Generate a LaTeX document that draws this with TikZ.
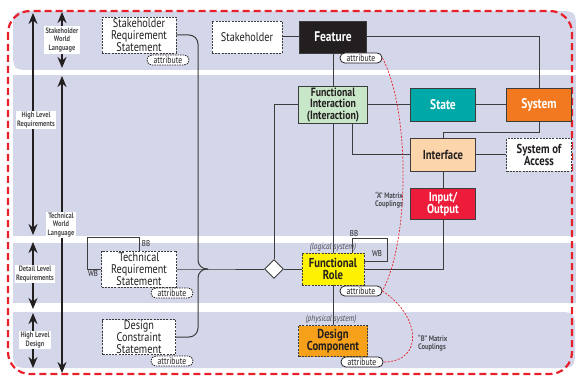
\documentclass[tikz,border=0pt]{standalone}
\usepackage{fontspec}
\setmainfont{PT Sans}[FakeStretch=0.82]
\usetikzlibrary{arrows.meta,shapes.geometric,calc}
\definecolor{band}{RGB}{212,214,234}
\definecolor{linec}{RGB}{60,60,60}
\definecolor{darkt}{RGB}{35,31,32}
\definecolor{greyt}{RGB}{75,75,80}
\definecolor{redd}{RGB}{232,32,42}
\definecolor{figreen}{RGB}{200,230,200}
\definecolor{teal}{RGB}{0,169,167}
\definecolor{sysorange}{RGB}{243,121,32}
\definecolor{peach}{RGB}{253,213,170}
\definecolor{iored}{RGB}{237,28,58}
\definecolor{fryellow}{RGB}{255,242,0}
\definecolor{dcorange}{RGB}{247,161,26}
\begin{document}
\begin{tikzpicture}[x=1pt,y=-1pt,
  box/.style={draw=linec, line width=0.9pt, minimum width=65pt, minimum height=33pt, inner sep=1pt, align=center, font=\fontsize{13}{12.5}\selectfont\bfseries, text=darkt},
  wbox/.style={box, fill=white, dash pattern=on 2pt off 1.2pt, font=\fontsize{12.5}{12}\selectfont},
  attrpill/.style={draw=darkt, fill=white, line width=0.8pt, rounded corners=4.8pt, minimum width=42pt, minimum height=10pt, inner sep=0pt, font=\fontsize{9.5}{9}\selectfont, text=darkt},
  dattr/.style={attrpill, dash pattern=on 1.5pt off 1pt},
  conn/.style={draw=linec, line width=1pt},
  bigarrow/.style={line width=2.3pt, draw=darkt, {Stealth[length=11pt,width=9pt]}-{Stealth[length=11pt,width=9pt]}},
  scalelbl/.style={fill=white, inner sep=1.5pt, align=center, font=\fontsize{7.8}{8.4}\selectfont\bfseries, text=greyt},
  smalllbl/.style={inner sep=0.5pt, font=\fontsize{8.5}{8.5}\selectfont, text=darkt},
  itlbl/.style={inner sep=0pt, font=\fontsize{9}{9}\selectfont\itshape, text=greyt},
  mtxlbl/.style={inner sep=0pt, align=left, font=\fontsize{8}{8.5}\selectfont\bfseries, text=greyt},
  redcurve/.style={draw=redd, line width=0.7pt, dash pattern=on 2pt off 1.5pt}
]
\useasboundingbox (0,0) rectangle (576,377);
% bands
\fill[band] (13,31) .. controls (13,11) .. (33,11) -- (556,11) .. controls (576,11) .. (576,31) -- (576,70) -- (33,70) .. controls (13,70) .. (13,50) -- cycle;
\fill[band] (13,75) rectangle (576,236);
\fill[band] (13,243) rectangle (576,303);
\fill[band] (13,312) -- (555,312) .. controls (575,312) .. (575,332) -- (575,348) .. controls (575,368) .. (555,368) -- (33,368) .. controls (13,368) .. (13,348) -- cycle;
% outer red dashed border
\draw[redd, line width=2.2pt, dash pattern=on 7pt off 4pt, rounded corners=22] (8,11) rectangle (572,374);
% scale arrows
\coordinate (a1t) at (33,13); \coordinate (a1b) at (33,235);
\coordinate (a2t) at (33,242); \coordinate (a2b) at (33,309);
\coordinate (a3t) at (33,313); \coordinate (a3b) at (33,368);
\coordinate (b1t) at (62,12); \coordinate (b1b) at (62,68);
\coordinate (b2t) at (62,76); \coordinate (b2b) at (62,373);
\draw[bigarrow] (a1t) -- (a1b);
\draw[bigarrow] (a2t) -- (a2b);
\draw[bigarrow] (a3t) -- (a3b);
\draw[bigarrow] (b1t) -- (b1b);
\draw[bigarrow] (b2t) -- (b2b);
\node[scalelbl] (lswl) at (62,40) {Stakeholder\\World\\Language};
\node[scalelbl] (lhlr) at (36,120) {High Level\\Requirements};
\node[scalelbl] (ltwl) at (61,225) {Technical\\World\\Language};
\node[scalelbl] (ldlr) at (35,274) {Detail Level\\Requirements};
\node[scalelbl] (lhld) at (35,340) {High Level\\Design};
% nodes
\node[wbox, minimum width=74pt, minimum height=36pt] (srs) at (139,35) {Stakeholder\\Requirement\\Statement};
\node[wbox, minimum width=70pt, minimum height=32pt] (sh) at (247,37) {Stakeholder};
\node[box, fill=darkt, text=white, minimum width=67pt, minimum height=32pt, font=\fontsize{14}{14}\selectfont\bfseries] (feat) at (333,37) {Feature};
\node[box, fill=figreen, minimum width=69pt, minimum height=37pt, font=\fontsize{12}{11.5}\selectfont\bfseries] (fi) at (333,105) {Functional\\Interaction\\(Interaction)};
\node[box, fill=teal, text=white, font=\fontsize{14}{14}\selectfont\bfseries] (state) at (443,105) {State};
\node[box, fill=sysorange, text=white, font=\fontsize{14}{14}\selectfont\bfseries] (sys) at (539,105) {System};
\node[box, fill=peach] (iface) at (443,155) {Interface};
\node[box, fill=white, dash pattern=on 2pt off 1.2pt] (soa) at (539,155) {System of\\Access};
\node[box, fill=iored, text=white, minimum height=31pt] (io) at (443,204) {Input/\\Output};
\node[wbox, minimum width=75pt, minimum height=36pt] (trs) at (139,269) {Technical\\Requirement\\Statement};
\node[box, fill=fryellow, dash pattern=on 2pt off 1.2pt, minimum width=62pt, minimum height=32pt] (fr) at (333,269) {Functional\\Role};
\node[box, fill=dcorange, dash pattern=on 2pt off 1.2pt, minimum width=69pt, minimum height=31pt] (dc) at (333,341) {Design\\Component};
\node[wbox, minimum width=73pt, minimum height=35pt] (dcs) at (139,337) {Design\\Constraint\\Statement};
\node[diamond, draw=linec, fill=white, line width=0.9pt, minimum width=19pt, minimum height=19pt, inner sep=0pt] (dia) at (274,269) {};
% attribute pills
\node[dattr] (srsattr) at (168,60) {attribute};
\node[attrpill] (fattr) at (361,58) {attribute};
\node[dattr] (trsattr) at (172,293) {attribute};
\node[attrpill] (frattr) at (361,291) {attribute};
\node[dattr] (dcsattr) at (172,361) {attribute};
\node[attrpill] (dcattr) at (362,362) {attribute};
% italic labels
\node[itlbl] (logsys) at (333,247) {(logical system)};
\node[itlbl] (physys) at (331,319) {(physical system)};
% junction and loop corners
\coordinate (jn) at (208,269);
\coordinate (trsloop) at (87,237);
\coordinate (frloop) at (387,238);
% connectors
\draw[conn] (sh) -- (feat);
\draw[conn] (feat.east) -| (sys.north);
\draw[conn] (feat) -- (fi);
\draw[conn] (fi) -- (state);
\draw[conn] (state) -- (sys);
\draw[conn] (sys.south) -- ($(sys.south)+(0,11)$) -| (iface.north);
\draw[conn] (iface) -- (soa);
\draw[conn] (iface) -- (io);
\draw[conn] (io.south) |- (fr.east);
\draw[conn] ([xshift=19pt]fi.south) |- (iface.west);
\draw[conn] (fi.west) -| (dia.north);
\draw[conn] (fi.south) -- (fr.north);
\draw[conn] (fr) -- (dc);
\draw[conn] (dia.east) -- (fr.west);
\draw[conn] (trs.east) -- (jn) -- (dia.west);
\draw[conn, rounded corners=9pt] (srs.east) -| (198,269) -- (jn);
\draw[conn, rounded corners=9pt] (dcs.east) -| (198,269) -- (jn);
\draw[conn] (trs.north) |- (trsloop) |- (trs.west);
\draw[conn] ([xshift=19pt]fr.north) |- (frloop) |- ([yshift=8pt]fr.east);
\node[smalllbl] (bb1) at (146,244) {BB};
\node[smalllbl] (wb1) at (93,274) {WB};
\node[smalllbl] (bb2) at (354,234) {BB};
\node[smalllbl] (wb2) at (377,254) {WB};
% matrix couplings
\draw[redcurve] (fattr.east) .. controls (410,110) and (410,240) .. (frattr.east);
\draw[redcurve] (frattr.east) .. controls (420,315) and (425,362) .. (dcattr.east);
\node[mtxlbl, align=right, anchor=east] (amx) at (403,200) {``A'' Matrix\\Couplings};
\node[mtxlbl, anchor=west] (bmx) at (418,343) {``B'' Matrix\\Couplings};
\end{tikzpicture}
\end{document}
